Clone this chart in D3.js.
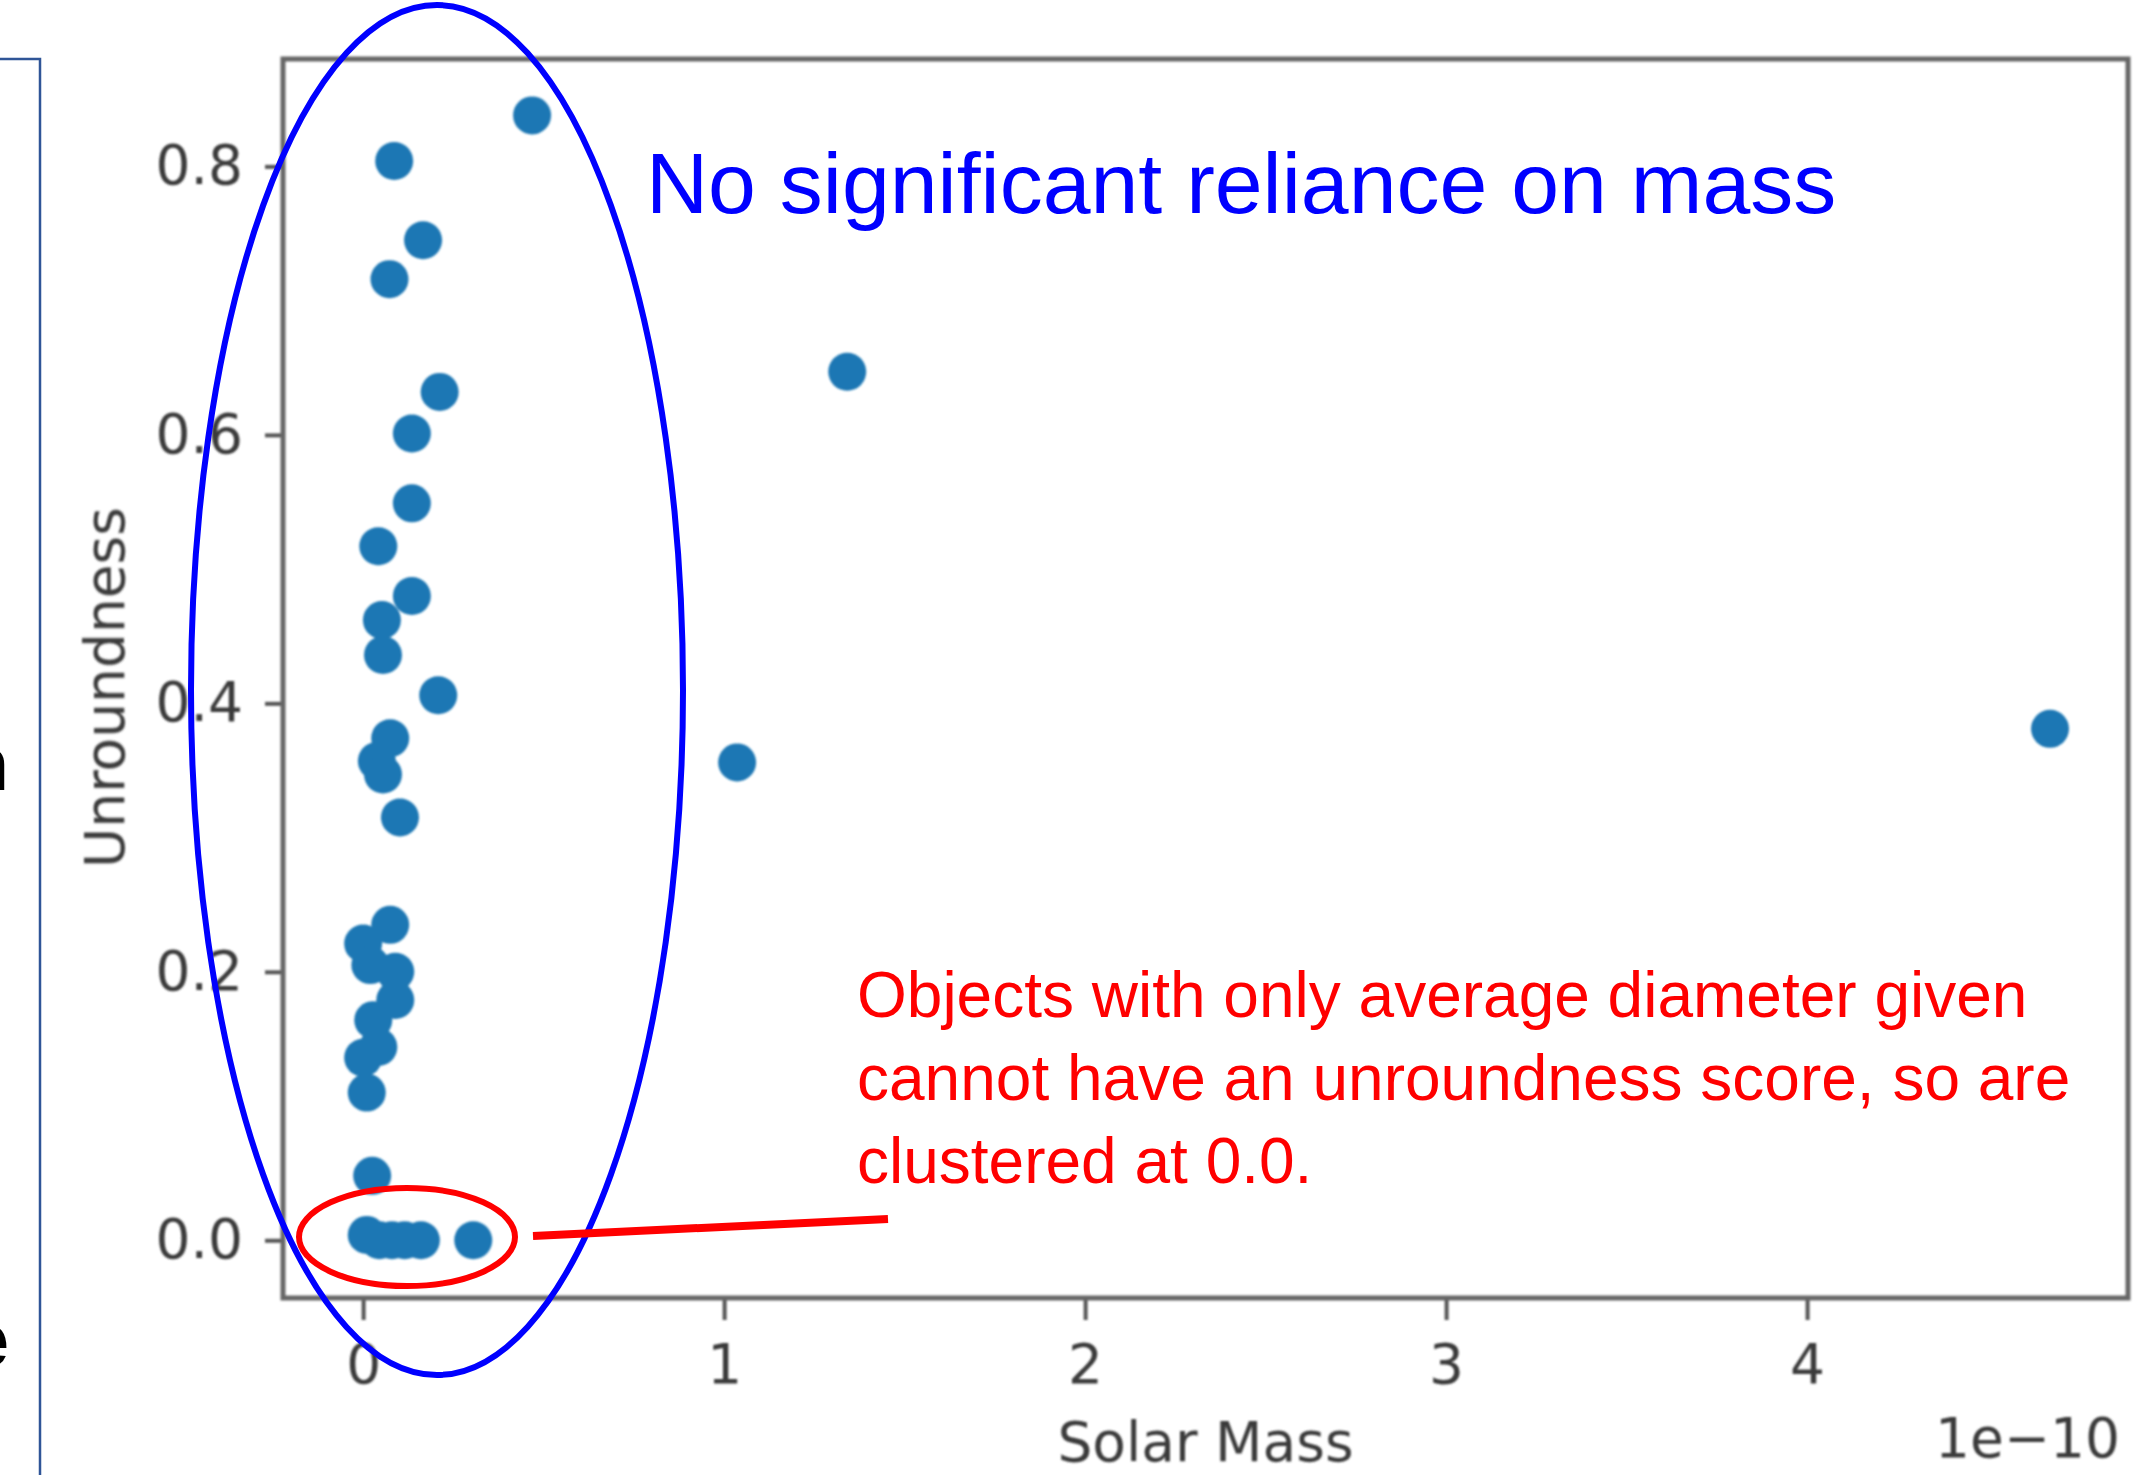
<!DOCTYPE html>
<html>
<head>
<meta charset="utf-8">
<script src="https://cdn.jsdelivr.net/npm/d3@7"></script>
<style>
  html, body { margin: 0; padding: 0; background: #fff; }
  svg { display: block; }
</style>
</head>
<body>
<div class="chart"></div>
<script>
const width = 2136;
const height = 1475;

// solar mass in units of 1e-10
const mass = [0.468, 0.086, 0.166, 0.073, 0.212, 0.135, 0.135, 0.042, 0.135, 0.052,
  0.055, 0.208, 0.075, 0.038, 0.055, 0.102, 0.075, 0.000, 0.020, 0.089,
  0.089, 0.028, 0.042, 0.000, 0.010, 0.025, 0.010, 0.045, 0.080, 0.115,
  0.160, 0.305, 1.036, 1.341, 4.673];
const unroundness = [0.838, 0.804, 0.745, 0.716, 0.632, 0.601, 0.549, 0.517, 0.480, 0.462,
  0.436, 0.406, 0.374, 0.357, 0.347, 0.315, 0.235, 0.221, 0.205, 0.200,
  0.179, 0.164, 0.144, 0.136, 0.110, 0.048, 0.004, 0.000, 0.000, 0.000,
  0.000, 0.000, 0.356, 0.647, 0.381];
const xTicks = [0, 1, 2, 3, 4];
const yTicks = [0, 0.2, 0.4, 0.6, 0.8];

const points = mass.map((m, i) => ({ x: m, y: unroundness[i] }));

const plot = { left: 283, right: 2128, top: 59, bottom: 1298 };

const svg = d3.select('.chart').append('svg')
  .attr('width', width)
  .attr('height', height)

const defs = svg.append('defs')
defs.append('filter').attr('id', 'soft')
  .append('feGaussianBlur').attr('stdDeviation', 1.3)

const x = d3.scaleLinear().domain([-0.222, 4.889]).range([plot.left, plot.right]);
const y = d3.scaleLinear().domain([-0.043, 0.88]).range([plot.bottom, plot.top]);

// slide frame on the left
svg.append('path')
  .attr('d', `M0,${plot.top} H40 V${height}`)
  .attr('fill', 'none')
  .attr('stroke', '#2F5597')
  .attr('stroke-width', 2.5)

// cut off slide text
svg.append('text').attr('x', 9).attr('y', 790).text('n')
  .attr('text-anchor', 'end').style('font', 'bold 76px "Liberation Sans"')
svg.append('text').attr('x', 9).attr('y', 1366).text('e')
  .attr('text-anchor', 'end').style('font', 'bold 76px "Liberation Sans"')

const chart = svg.append('g').attr('filter', 'url(#soft)')

const tickFont = '55px "DejaVu Sans"';
const textColor = '#3a3a3a';

const yAxis = chart.append('g')
  .attr('transform', `translate(${plot.left},0)`)
  .call(d3.axisLeft(y).tickValues(yTicks).tickFormat(d3.format('.1f')).tickSize(18).tickPadding(22))
yAxis.select('.domain').remove()

const xAxis = chart.append('g')
  .attr('transform', `translate(0,${plot.bottom})`)
  .call(d3.axisBottom(x).tickValues(xTicks).tickFormat(d => d).tickSize(22).tickPadding(24))
xAxis.select('.domain').remove()

chart.selectAll('.tick line').attr('stroke', '#555').attr('stroke-width', 4)
chart.selectAll('.tick text').style('font', tickFont).attr('fill', textColor)

// spines
chart.append('rect')
  .attr('x', plot.left)
  .attr('y', plot.top)
  .attr('width', plot.right - plot.left)
  .attr('height', plot.bottom - plot.top)
  .attr('fill', 'none')
  .attr('stroke', '#666')
  .attr('stroke-width', 5)

chart.selectAll('circle.pt')
  .data(points)
  .enter()
  .append('circle')
  .attr('class', 'pt')
  .attr('cx', d => x(d.x))
  .attr('cy', d => y(d.y))
  .attr('r', 19)
  .attr('fill', '#1f77b4')

chart.append('text')
  .attr('x', (plot.left + plot.right) / 2)
  .attr('y', 1461)
  .attr('text-anchor', 'middle')
  .style('font', tickFont)
  .attr('fill', textColor)
  .text('Solar Mass')

chart.append('text')
  .attr('x', plot.right - 8)
  .attr('y', 1457)
  .attr('text-anchor', 'end')
  .style('font', tickFont)
  .attr('fill', textColor)
  .text('1e\u221210')

chart.append('text')
  .attr('transform', `translate(124,${(plot.top + plot.bottom) / 2 + 9}) rotate(-90)`)
  .attr('text-anchor', 'middle')
  .style('font', tickFont)
  .attr('fill', textColor)
  .text('Unroundness')

// annotations drawn over the plot
svg.append('ellipse')
  .attr('cx', 437).attr('cy', 690).attr('rx', 246).attr('ry', 685)
  .attr('fill', 'none').attr('stroke', '#0000FF').attr('stroke-width', 6)

svg.append('ellipse')
  .attr('cx', 407).attr('cy', 1237).attr('rx', 108).attr('ry', 49)
  .attr('fill', 'none').attr('stroke', '#FF0000').attr('stroke-width', 6)

svg.append('line')
  .attr('x1', 533).attr('y1', 1236).attr('x2', 888).attr('y2', 1219)
  .attr('stroke', '#FF0000').attr('stroke-width', 8)

svg.append('text')
  .attr('x', 646).attr('y', 213)
  .style('font', '86px "Liberation Sans"')
  .attr('fill', '#0000FF')
  .text('No significant reliance on mass')

const note = [
  'Objects with only average diameter given',
  'cannot have an unroundness score, so are',
  'clustered at 0.0.'
];
svg.selectAll('text.note')
  .data(note)
  .enter()
  .append('text')
  .attr('class', 'note')
  .attr('x', 857)
  .attr('y', (d, i) => 1017 + i * 83)
  .style('font', '64px "Liberation Sans"')
  .attr('fill', '#FF0000')
  .text(d => d)
</script>
</body>
</html>
